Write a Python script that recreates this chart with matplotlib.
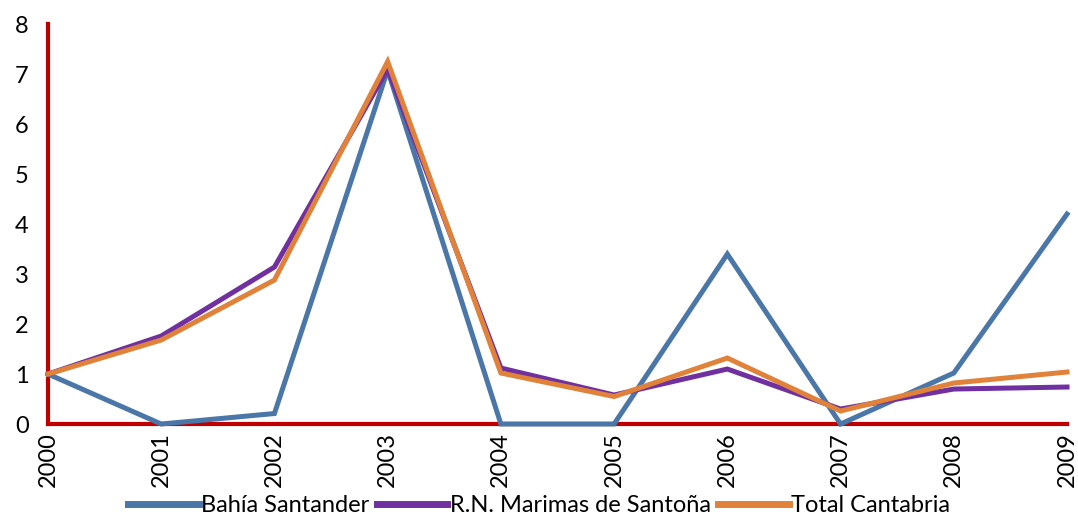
import matplotlib
matplotlib.use("Agg")
import matplotlib.pyplot as plt

plt.rcParams['font.family'] = ['Lato', 'DejaVu Sans']

years = [2000, 2001, 2002, 2003, 2004, 2005, 2006, 2007, 2008, 2009]
bahia = [1.0, 0.0, 0.21, 7.08, 0.0, 0.0, 3.4, 0.0, 1.02, 4.2]
marismas = [1.0, 1.76, 3.14, 7.1, 1.12, 0.58, 1.1, 0.3, 0.7, 0.74]
total = [1.0, 1.68, 2.88, 7.25, 1.02, 0.55, 1.32, 0.26, 0.82, 1.04]
series_names = ["Bahía Santander", "R.N. Marimas de Santoña", "Total Cantabria"]
colors = ["#4A76A8", "#7030A0", "#E0823A"]

fig = plt.figure(figsize=(10.78, 5.24), dpi=100)
ax = fig.add_axes([0.0445, 0.1908, 0.9453, 0.7632])

for vals, name, c in zip([bahia, marismas, total], series_names, colors):
    ax.plot(years, vals, color=c, lw=3.6, label=name, clip_on=False,
            solid_joinstyle='miter', zorder=3)

ax.set_xlim(2000, 2009)
ax.set_ylim(0, 8)
ax.set_xticks(years)
ax.set_xticklabels([str(y) for y in years], rotation=90, fontsize=17)
ax.set_yticks(range(0, 9))
ax.tick_params(axis='both', length=0, labelsize=17)
ax.tick_params(axis='y', pad=14)
ax.tick_params(axis='x', pad=6)
for s in ['top', 'right']:
    ax.spines[s].set_visible(False)
for s in ['left', 'bottom']:
    ax.spines[s].set_color('#C00000')
    ax.spines[s].set_linewidth(3)
    ax.spines[s].set_zorder(2)

leg = fig.legend(loc='lower center', bbox_to_anchor=(0.5, -0.025), ncol=3,
                 frameon=False, fontsize=17, handlelength=3.0,
                 handletextpad=0.1, columnspacing=0.3)
for h in leg.get_lines():
    h.set_linewidth(5)

fig.savefig("out.png", dpi=100)
